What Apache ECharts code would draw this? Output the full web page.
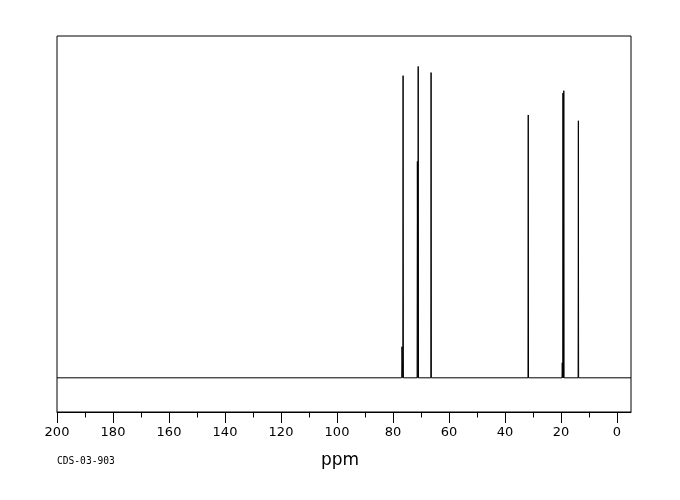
<!DOCTYPE html>
<html>
<head>
<meta charset="utf-8">
<script src="https://cdn.jsdelivr.net/npm/echarts@6/dist/echarts.min.js"></script>
<style>html,body{margin:0;padding:0;background:#fff;}#c{width:680px;height:500px;}</style>
</head>
<body>
<div id="c"></div>
<script>
// Peak positions (ppm) and intensities (relative)
const peakPpm = [13.8, 19.0, 19.3, 19.55, 31.7, 66.4, 71.0, 71.3, 76.4, 76.8];
const peakHeight = [75.2, 84.0, 83.3, 4.4, 76.9, 89.3, 91.1, 63.3, 88.4, 9.1];
const majorTicks = [0, 20, 40, 60, 80, 100, 120, 140, 160, 180, 200];
const minorTicks = [10, 30, 50, 70, 90, 110, 130, 150, 170, 190];
const xRange = [-5, 200];
const codeLabel = 'CDS-03-903';
const unitLabel = 'ppm';

const halfWidth = 0.1;
const order = peakPpm.map((p, i) => i).sort((a, b) => peakPpm[a] - peakPpm[b]);
const spectrum = [[xRange[0], 0]];
order.forEach(i => {
  spectrum.push([peakPpm[i] - halfWidth, 0]);
  spectrum.push([peakPpm[i], peakHeight[i]]);
  spectrum.push([peakPpm[i] + halfWidth, 0]);
});
spectrum.push([xRange[1], 0]);

const chart = echarts.init(document.getElementById('c'), null, {renderer: 'canvas'});
chart.setOption({
  animation: false,
  backgroundColor: '#fff',
  grid: {left: 57, right: 49, top: 36, bottom: 88, show: true, borderColor: '#000', borderWidth: 1, backgroundColor: 'transparent'},
  xAxis: [{
    type: 'value', min: xRange[0], max: xRange[1], inverse: true, position: 'bottom',
    axisLine: {show: true, onZero: false, lineStyle: {color: '#000', width: 1}},
    axisTick: {show: true, length: 11, inside: false, lineStyle: {color: '#000', width: 1}, customValues: majorTicks},
    axisLabel: {show: true, margin: 14, color: '#000', fontFamily: 'DejaVu Sans', fontSize: 13, customValues: majorTicks},
    splitLine: {show: false}
  }, {
    type: 'value', min: xRange[0], max: xRange[1], inverse: true, position: 'bottom', gridIndex: 0,
    axisLine: {show: false, onZero: false},
    axisTick: {show: true, length: 5.5, lineStyle: {color: '#000', width: 1}, customValues: minorTicks},
    axisLabel: {show: false},
    splitLine: {show: false}
  }],
  yAxis: {type: 'value', min: -10, max: 100, show: false, splitLine: {show: false}},
  series: [{
    type: 'line', data: spectrum, xAxisIndex: 0, showSymbol: false, symbol: 'none',
    lineStyle: {color: '#000', width: 1}, silent: true
  }],
  graphic: [
    {type: 'text', left: 57, top: 456, style: {text: codeLabel, fill: '#000', font: '9.6px "DejaVu Sans Mono"'}},
    {type: 'text', left: 321, top: 452, style: {text: unitLabel, fill: '#000', font: '17px "DejaVu Sans"'}}
  ]
});
</script>
</body>
</html>
